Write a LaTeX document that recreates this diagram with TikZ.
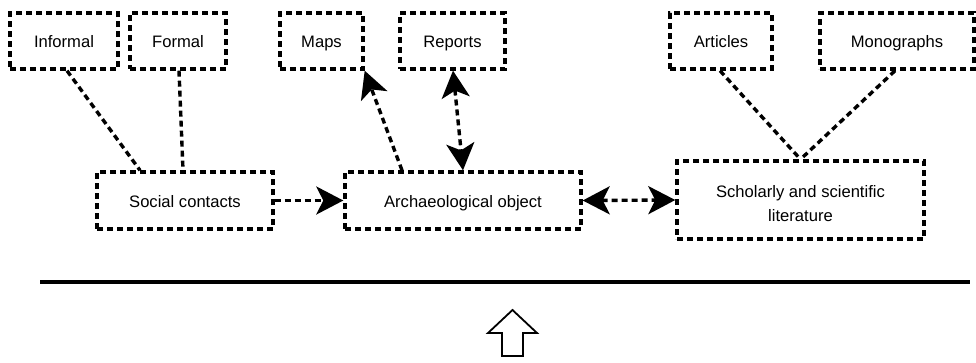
\documentclass[tikz,border=0pt]{standalone}
\usepackage{fontspec}
\setmainfont{Liberation Sans}
\usetikzlibrary{arrows.meta}
\begin{document}
\begin{tikzpicture}[x=1pt,y=-1pt,
  every node/.style={font=\fontsize{16.6}{23.5}\selectfont},
  box/.style={draw, line width=3.4pt, dash pattern=on 6pt off 4pt, inner sep=0pt, align=center},
  line1/.style={text height=13pt, text depth=-1pt},
  link/.style={line width=3.4pt, dash pattern=on 6pt off 4pt},
  head/.tip={Stealth[length=27pt,width=28pt,inset=7pt]},
  tip/.style={-head},
  tips/.style={head-head}]
\useasboundingbox (0,0) rectangle (976,362);

% sources
\node[box, line1, minimum width=108pt, minimum height=56pt] (inf) at (64,41) {Informal};
\node[box, line1, minimum width=96pt, minimum height=56pt] (for) at (178,41) {Formal};
\node[box, line1, minimum width=83pt, minimum height=56pt] (map) at (321.5,41) {Maps};
\node[box, line1, minimum width=105pt, minimum height=56pt] (rep) at (452.5,41) {Reports};
\node[box, line1, minimum width=102pt, minimum height=56pt] (art) at (721,41) {Articles};
\node[box, line1, minimum width=154pt, minimum height=56pt] (mon) at (897,41) {Monographs};

% middle row
\node[box, line1, minimum width=176pt, minimum height=57pt] (soc) at (185,200.5) {Social contacts};
\node[box, line1, minimum width=236pt, minimum height=57pt] (arc) at (463,200.5) {Archaeological object};
\node[box, minimum width=247pt, minimum height=78pt] (sch) at (800.5,200) {};
\node[align=center] (schtxt) at ([yshift=-3.5pt]sch.center) {Scholarly and scientific\\literature};

% connectors
\draw[link] ([xshift=3pt]inf.south) -- ([xshift=-45pt]soc.north);
\draw[link] ([xshift=1pt]for.south) -- ([xshift=-2pt]soc.north);
\draw[link, tip] (soc.east) -- (arc.west);
\draw[link, tip] ([xshift=-61pt]arc.north) -- (map.south east);
\draw[link, tips] ([xshift=0.5pt]rep.south) -- (arc.north);
\draw[link, tips] (arc.east) -- (sch.west);
\draw[link] ([xshift=-1pt]art.south) -- (sch.north);
\draw[link] ([xshift=-2pt]mon.south) -- (sch.north);

% divider and hollow arrow
\coordinate (la) at (40,282);
\coordinate (lb) at (970,282);
\draw[line width=3.2pt] (la) -- (lb);
\draw[line width=1.8pt, line join=miter, fill=white]
  (512.5,310) -- (537,333) -- (523,333) -- (523,356) -- (502,356) -- (502,333) -- (488,333) -- cycle;
\end{tikzpicture}
\end{document}
